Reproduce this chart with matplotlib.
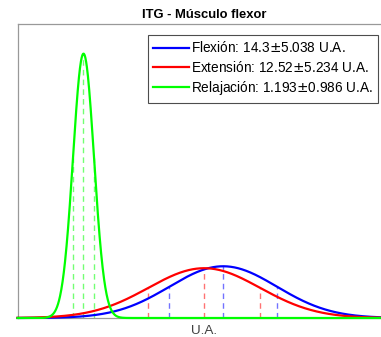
import numpy as np
import matplotlib
matplotlib.use("Agg")
import matplotlib.pyplot as plt

# Summary statistics of the integrated signal (U.A.)
labels = ["Flexión", "Extensión", "Relajación"]
means = [14.3, 12.52, 1.193]
stds = [5.038, 5.234, 0.986]
colors = [(0, 0, 1), (1, 0, 0), (0, 1, 0)]

plt.rcParams["font.family"] = ["Liberation Sans", "DejaVu Sans"]

W, H = 381, 337
fig = plt.figure(figsize=(W / 100, H / 100), dpi=100)
ax = fig.add_axes([17.5 / W, (H - 318) / H, (390.5 - 17.5) / W, (318 - 24) / H])

x = np.linspace(-5, 30, 1500)


def gauss(v, m, s):
    return np.exp(-0.5 * ((v - m) / s) ** 2) / (s * np.sqrt(2 * np.pi))


for lab, m, s, c in zip(labels, means, stds, colors):
    ax.plot(x, gauss(x, m, s), color=c, lw=1.6, clip_on=False,
            label=f"{lab}: {m:g}$\\pm${s:g} U.A.", zorder=3)
    # dashed markers at mean and mean +/- std
    for p in (m - s, m, m + s):
        ax.plot([p, p], [0, gauss(p, m, s)], color=c, lw=1.0, alpha=0.55,
                dashes=(4, 3), zorder=2)

ax.set_xlim(-5, 30)
ax.set_ylim(0, 0.45)
ax.set_xticks([])
ax.set_yticks([])
for sp in ax.spines.values():
    sp.set_color((0.6, 0.6, 0.6))
    sp.set_linewidth(0.9)

ax.set_title("ITG - Músculo flexor", fontsize=9.4, fontweight="bold", pad=4)
ax.set_xlabel("U.A.", fontsize=9.7, color=(0.25, 0.25, 0.25), labelpad=5)

leg = ax.legend(loc="upper right", bbox_to_anchor=(378 / W, 1 - 35 / H),
                bbox_transform=fig.transFigure, borderaxespad=0,
                fontsize=9.8, handlelength=2.6, handletextpad=0.15,
                labelspacing=0.32, borderpad=0.4, fancybox=False,
                framealpha=1)
leg.get_frame().set_edgecolor((0.3, 0.3, 0.3))
leg.get_frame().set_linewidth(0.8)

fig.savefig("out.png", dpi=100)
